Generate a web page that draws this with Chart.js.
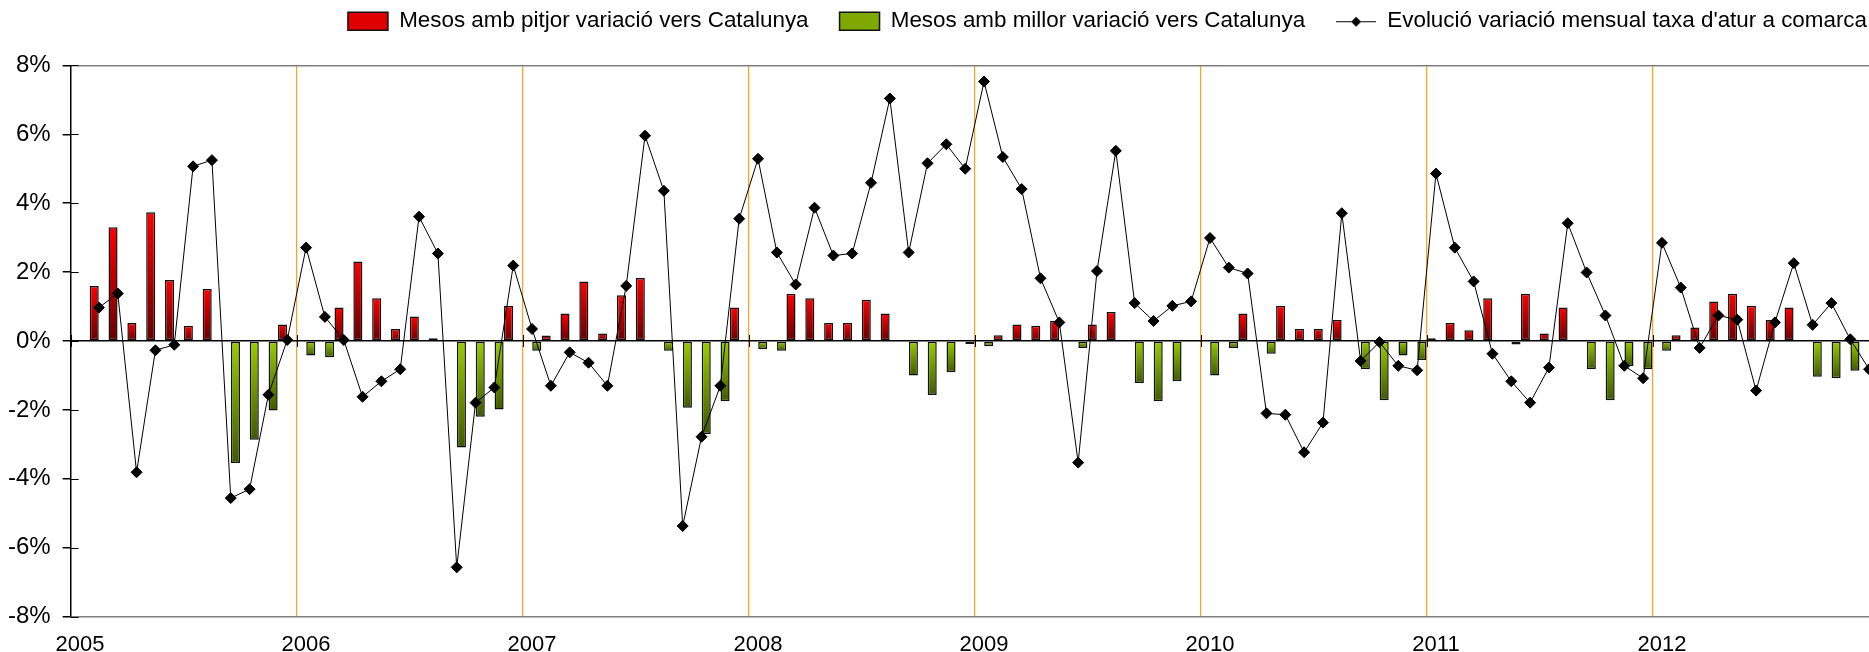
<!DOCTYPE html>
<html>
<head>
<meta charset="utf-8">
<script src="https://cdn.jsdelivr.net/npm/chart.js@4"></script>
<style>
  html, body { margin: 0; padding: 0; background: #fff; overflow: hidden; }
  #wrap { width: 1885px; height: 652px; }
</style>
</head>
<body>
<div id="wrap"><canvas id="chart" width="1885" height="652"></canvas></div>
<script>
const years = ['2005', '2006', '2007', '2008', '2009', '2010', '2011', '2012'];
const months = ['gen', 'feb', 'mar', 'abr', 'mai', 'jun', 'jul', 'ago', 'set', 'oct', 'nov', 'des'];
const categories = years.flatMap(y => months.map(m => m + ' ' + y));

// Mesos amb pitjor variacio (red, positive)
const pitjor = [
  null, 1.60, 3.30, 0.52, 3.74, 1.77, 0.44, 1.51, null, null, null, 0.48,   // 2005
  null, null, 0.97, 2.31, 1.24, 0.35, 0.71, 0.08, null, null, null, 1.02,   // 2006
  null, 0.16, 0.80, 1.73, 0.22, 1.33, 1.83, null, null, null, null, 0.97,   // 2007
  null, null, 1.37, 1.24, 0.52, 0.52, 1.20, 0.80, null, null, null, null,   // 2008
  null, 0.17, 0.48, 0.44, 0.59, null, 0.48, 0.84, null, null, null, null,   // 2009
  null, null, 0.80, null, 1.02, 0.35, 0.35, 0.61, null, null, null, null,   // 2010
  0.08, 0.52, 0.31, 1.24, null, 1.37, 0.22, 0.97, null, null, null, null,   // 2011
  null, 0.17, 0.39, 1.15, 1.37, 1.02, 0.61, 0.97, null, null, null, null    // 2012
];

// Mesos amb millor variacio (green, negative)
const millor = [
  null, null, null, null, null, null, null, null, -3.54, -2.87, -2.02, null,      // 2005
  -0.42, -0.47, null, null, null, null, null, null, -3.09, -2.20, -1.99, null,    // 2006
  -0.28, null, null, null, null, null, null, -0.28, -1.94, -2.70, -1.75, null,    // 2007
  -0.24, -0.28, null, null, null, null, null, null, -1.00, -1.57, -0.91, -0.09,   // 2008
  -0.15, null, null, null, null, -0.20, null, null, -1.22, -1.75, -1.17, null,    // 2009
  -1.00, -0.20, null, -0.37, null, null, null, null, -0.82, -1.72, -0.42, -0.55,  // 2010
  null, null, null, null, -0.10, null, null, null, -0.82, -1.72, -0.73, -0.82,    // 2011
  -0.28, null, null, null, null, null, null, null, -1.04, -1.08, -0.86, null      // 2012
];

// Evolucio variacio mensual taxa d'atur a comarca
const evolucio = [
  null, 0.97, 1.38, -3.81, -0.27, -0.11, 5.07, 5.25, -4.56, -4.30, -1.56, 0.03,   // 2005
  2.71, 0.70, 0.03, -1.62, -1.17, -0.82, 3.61, 2.54, -6.57, -1.79, -1.35, 2.19,   // 2006
  0.35, -1.30, -0.33, -0.63, -1.30, 1.60, 5.96, 4.36, -5.37, -2.78, -1.30, 3.55,  // 2007
  5.29, 2.57, 1.64, 3.87, 2.48, 2.54, 4.59, 7.04, 2.57, 5.16, 5.71, 5.00,         // 2008
  7.53, 5.34, 4.41, 1.82, 0.54, -3.53, 2.03, 5.52, 1.10, 0.58, 1.02, 1.15,        // 2009
  2.99, 2.13, 1.96, -2.10, -2.14, -3.23, -2.37, 3.71, -0.58, -0.03, -0.72, -0.85, // 2010
  4.86, 2.71, 1.73, -0.37, -1.17, -1.79, -0.77, 3.42, 1.99, 0.74, -0.72, -1.08,   // 2011
  2.85, 1.55, -0.20, 0.74, 0.62, -1.44, 0.54, 2.26, 0.47, 1.10, 0.05, -0.82       // 2012
];

const yTicks = [-8, -6, -4, -2, 0, 2, 4, 6, 8];

const FONT = "'Liberation Sans', Arial, sans-serif";

// vertical gradient per bar, light at the top, dark at the bottom
function barGradient(light, dark) {
  return (c) => {
    const chart = c.chart;
    const v = c.raw;
    if (!chart.chartArea || v == null || c.type !== 'data') return light;
    const y = chart.scales.y;
    const top = y.getPixelForValue(Math.max(v, 0));
    const bottom = y.getPixelForValue(Math.min(v, 0));
    if (bottom - top < 1) return light;
    const g = chart.ctx.createLinearGradient(0, top, 0, bottom);
    g.addColorStop(0, light);
    g.addColorStop(1, dark);
    return g;
  };
}

function makeLineIcon() {
  const c = document.createElement('canvas');
  c.width = 40;
  c.height = 12;
  const g = c.getContext('2d');
  g.strokeStyle = '#000';
  g.lineWidth = 1;
  g.beginPath();
  g.moveTo(0, 6.5);
  g.lineTo(40, 6.5);
  g.stroke();
  g.fillStyle = '#000';
  g.beginPath();
  g.moveTo(20, 1.5);
  g.lineTo(25, 6.5);
  g.lineTo(20, 11.5);
  g.lineTo(15, 6.5);
  g.closePath();
  g.fill();
  return c;
}
const lineIcon = makeLineIcon();

// extra room between legend and plot; a little slack so the row never wraps
const legendGap = {
  id: 'legendGap',
  beforeLayout(chart) {
    const legend = chart.legend;
    if (!legend || legend._gapPatched) return;
    const fit = legend.fit;
    legend.fit = function () {
      fit.call(this);
      this.height += 23;
      if (this.lineWidths && this.lineWidths.length) this.lineWidths[0] += 1;
    };
    legend._gapPatched = true;
  }
};

// inner y ticks and year ticks across the zero line
const axisMarks = {
  id: 'axisMarks',
  afterDatasetsDraw(chart) {
    const { ctx, chartArea, scales: { x, y } } = chart;
    ctx.save();
    ctx.strokeStyle = '#000';
    ctx.lineWidth = 1;
    ctx.beginPath();
    y.ticks.forEach(t => {
      const py = Math.round(y.getPixelForValue(t.value)) + 0.5;
      ctx.moveTo(chartArea.left, py);
      ctx.lineTo(chartArea.left + 8, py);
    });
    const y0 = y.getPixelForValue(0);
    const n = categories.length;
    for (let i = 0; i < n; i += 12) {
      const px = Math.round(x.left + x.width * i / n) + 0.5;
      ctx.moveTo(px, y0 - 6);
      ctx.lineTo(px, y0 + 6);
    }
    ctx.stroke();
    ctx.restore();
  }
};

new Chart(document.getElementById('chart'), {
  type: 'bar',
  data: {
    labels: categories,
    datasets: [
      {
        label: 'Mesos amb pitjor variació vers Catalunya',
        data: pitjor,
        legendColor: '#E00000',
        backgroundColor: barGradient('#FF0000', '#650000'),
        borderColor: '#111',
        borderWidth: 1.5,
        borderSkipped: false,
        barPercentage: 0.96,
        categoryPercentage: 1.0,
        order: 1
      },
      {
        label: 'Mesos amb millor variació vers Catalunya',
        data: millor,
        legendColor: '#7FA800',
        backgroundColor: barGradient('#9ACD00', '#3F5A00'),
        borderColor: '#111',
        borderWidth: 1.5,
        borderSkipped: false,
        barPercentage: 0.96,
        categoryPercentage: 1.0,
        order: 1
      },
      {
        type: 'line',
        label: "Evolució variació mensual taxa d'atur a comarca",
        data: evolucio,
        borderColor: '#000',
        borderWidth: 1,
        backgroundColor: '#000',
        pointStyle: 'rectRot',
        pointRadius: 5.5,
        pointBackgroundColor: '#000',
        pointBorderColor: '#000',
        pointBorderWidth: 1,
        tension: 0,
        fill: false,
        order: 0
      }
    ]
  },
  options: {
    responsive: false,
    animation: false,
    devicePixelRatio: 1,
    layout: { padding: { top: -21, left: -4, right: -14, bottom: -21 } },
    plugins: {
      tooltip: { enabled: false },
      legend: {
        position: 'top',
        align: 'end',
        labels: {
          color: '#000',
          font: { family: FONT, size: 22.4 },
          padding: 31,
          usePointStyle: true,
          pointStyleWidth: 40,
          boxWidth: 40,
          boxHeight: 18,
          sort: (a, b) => a.datasetIndex - b.datasetIndex,
          generateLabels(chart) {
            const items = Chart.defaults.plugins.legend.labels.generateLabels(chart);
            items.forEach(item => {
              const ds = chart.data.datasets[item.datasetIndex];
              if (ds.type === 'line') {
                item.pointStyle = lineIcon;
              } else {
                item.pointStyle = 'rect';
                item.fillStyle = ds.legendColor;
                item.strokeStyle = '#111';
                item.lineWidth = 1.5;
              }
            });
            return items;
          }
        }
      }
    },
    scales: {
      x: {
        type: 'category',
        offset: true,
        border: { display: false },
        grid: {
          offset: true,
          drawTicks: false,
          lineWidth: 1.2,
          color: c => (c.index % 12 === 0 && c.index > 0 && c.index < categories.length) ? '#FFA31F' : 'rgba(0,0,0,0)'
        },
        ticks: {
          autoSkip: false,
          maxRotation: 0,
          minRotation: 0,
          padding: 15,
          color: '#000',
          font: { family: FONT, size: 22 },
          callback: (value, index) => index % 12 === 0 ? years[index / 12] : ''
        }
      },
      y: {
        min: -8,
        max: 8,
        afterBuildTicks: scale => { scale.ticks = yTicks.map(v => ({ value: v })); },
        border: { display: true, color: '#000', width: 1.5 },
        grid: {
          drawTicks: true,
          tickLength: 8,
          tickColor: '#000',
          lineWidth: 1.5,
          color: c => {
            const v = c.tick ? c.tick.value : null;
            if (v === 0) return '#000';
            if (v === 8 || v === -8) return '#808080';
            return 'rgba(0,0,0,0)';
          }
        },
        ticks: {
          padding: 12,
          color: '#000',
          font: { family: FONT, size: 24 },
          callback: v => v + '%'
        }
      }
    }
  },
  plugins: [legendGap, axisMarks]
});
</script>
</body>
</html>
